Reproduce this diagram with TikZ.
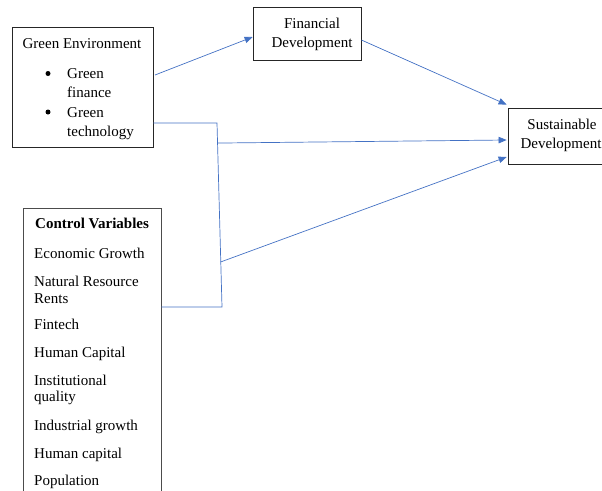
\documentclass[tikz,border=0pt]{standalone}
\usepackage{fontspec}
\setmainfont{Liberation Serif}
\usetikzlibrary{arrows.meta,calc}
\definecolor{linkblue}{HTML}{4472C4}
\begin{document}
\begin{tikzpicture}[x=1pt,y=-1pt,
  box/.style={draw=black!85, line width=0.8pt, inner sep=0pt},
  txt/.style={anchor=base west, inner sep=0pt, font=\fontsize{15}{18}\selectfont},
  ctxt/.style={anchor=base, inner sep=0pt, font=\fontsize{15}{18}\selectfont},
  bul/.style={circle, fill=black, inner sep=0pt, minimum size=5pt},
  link/.style={draw=linkblue, line width=0.7pt},
  arr/.style={link, -{Triangle[length=8pt,width=6.5pt,fill=linkblue]}}]
\useasboundingbox (0,0) rectangle (602,490);
\clip (0,0) rectangle (602,490);

% boxes
\node[box, minimum width=141pt, minimum height=120pt] (green) at (82.5,87) {};
\node[box, minimum width=108pt, minimum height=53pt] (fin) at (307,33.5) {};
\node[box, minimum width=98pt, minimum height=56pt] (sd) at (557,136) {};
\node[box, draw=black!70, minimum width=138pt, minimum height=292pt] (ctrl) at (92,354) {};

% green environment box
\node[ctxt] (geT) at (82,48) {Green Environment};
\node[bul] (gb1) at (48,73.5) {};
\node[txt] (g1a) at (67,78) {Green};
\node[txt] (g1b) at (67,97) {finance};
\node[bul] (gb2) at (48,112) {};
\node[txt] (g2a) at (67,117) {Green};
\node[txt] (g2b) at (67,136) {technology};

% financial development
\node[ctxt] (finA) at (312,28) {Financial};
\node[ctxt] (finB) at (312,47) {Development};

% sustainable development
\node[ctxt] (sdA) at (562,129) {Sustainable};
\node[ctxt] (sdB) at (561,148) {Development};

% control variables
\node[txt, font=\fontsize{15}{18}\selectfont\bfseries] (cv0) at (35,228) {Control Variables};
\node[txt] (cv1) at (34,258) {Economic Growth};
\node[txt] (cv2) at (34,286) {Natural Resource};
\node[txt] (cv3) at (34,303) {Rents};
\node[txt] (cv4) at (34,329) {Fintech};
\node[txt] (cv5) at (34,357) {Human Capital};
\node[txt] (cv6) at (34,385) {Institutional};
\node[txt] (cv7) at (34,401) {quality};
\node[txt] (cv8) at (34,430) {Industrial growth};
\node[txt] (cv9) at (34,458) {Human capital};
\node[txt] (cv10) at (34,485) {Population};

% connectors
\coordinate (j1) at (217,123);
\coordinate (j2) at (222,307);
\coordinate (geOut) at (155,75);
\draw[arr] (geOut) -- ($(fin.west)+(0,3.5)$);
\draw[arr] ($(fin.east)+(0,6.5)$) -- ($(sd.north west)+(-1,-3)$);
\draw[link] ($(green.east)+(0,36)$) -- (j1) -- (j2) -- ($(ctrl.east)+(0,-47)$);
\draw[arr] ($(j1)!0.109!(j2)$) -- ($(sd.west)+(-1,4)$);
\draw[arr] ($(j1)!0.755!(j2)$) -- ($(sd.west)+(-1,21)$);
\end{tikzpicture}
\end{document}
